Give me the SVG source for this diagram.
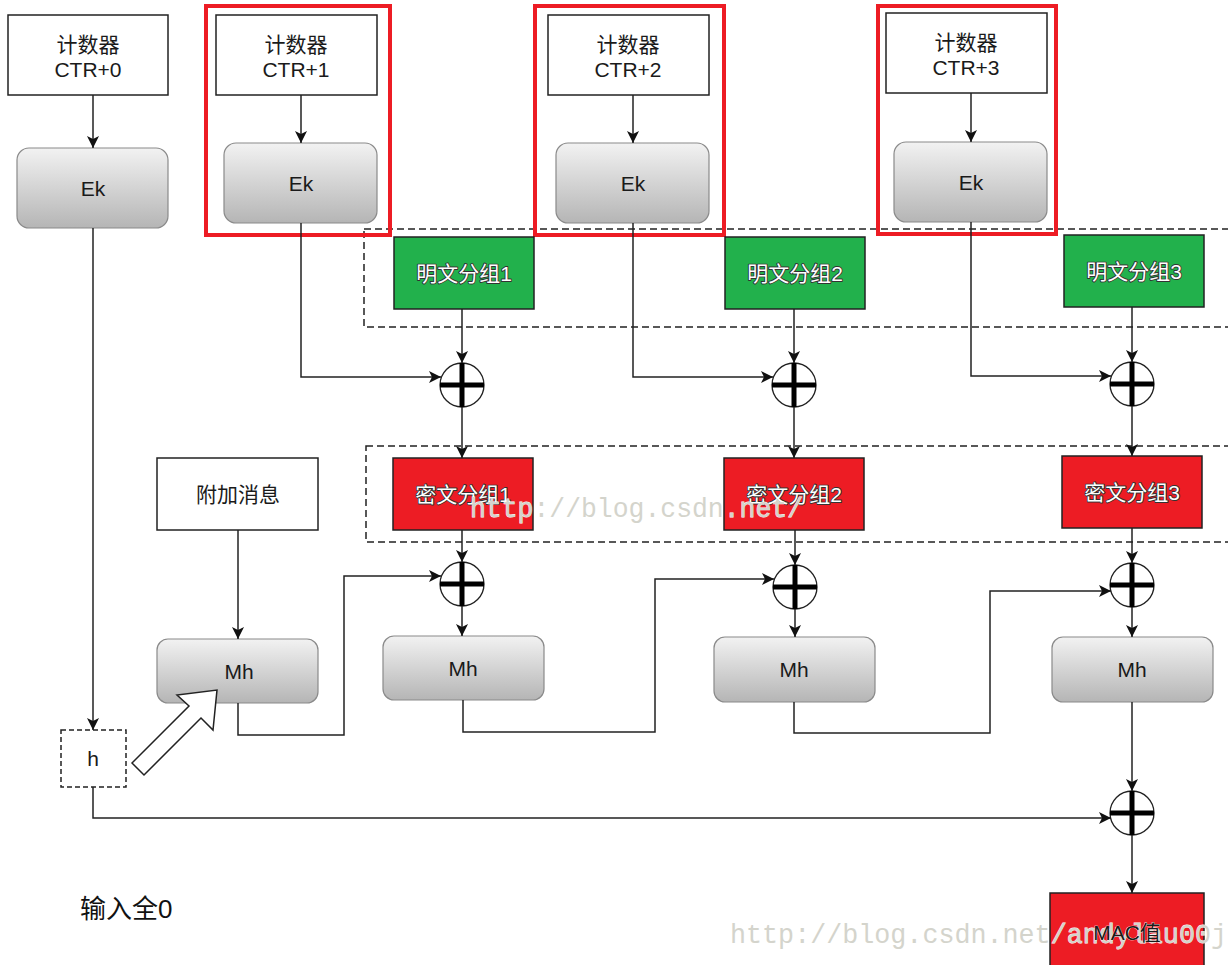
<svg xmlns="http://www.w3.org/2000/svg" width="1228" height="965" viewBox="0 0 1228 965">
<defs>
<linearGradient id="gray" x1="0" y1="0" x2="0" y2="1">
<stop offset="0" stop-color="#f2f2f2"/>
<stop offset="1" stop-color="#b5b5b5"/>
</linearGradient>
<marker id="ah" markerUnits="userSpaceOnUse" viewBox="0 0 12 12" markerWidth="12" markerHeight="12" refX="12" refY="6" orient="auto">
<path d="M0,0 L12,6 L0,12 L3,6 z" fill="#111"/>
</marker>
<g id="xor">
<circle cx="0" cy="0" r="22" fill="#fff" stroke="#222" stroke-width="1.3"/>
<path d="M0,-22 V22 M-22,0 H22" stroke="#000" stroke-width="5"/>
</g>
</defs>
<style>
text{font-family:"Liberation Sans","Noto Sans CJK SC",sans-serif;font-size:21px;fill:#1a1a1a;text-anchor:middle}
.box{fill:#fff;stroke:#222;stroke-width:1.5}
.rbox{fill:url(#gray);stroke:#8a8a8a;stroke-width:1.2}
.green{fill:#22b14c;stroke:#222;stroke-width:1.5}
.red{fill:#ed1c24;stroke:#222;stroke-width:1.5}
.frame{fill:none;stroke:#ed1c24;stroke-width:4}
.dash{fill:none;stroke:#222;stroke-width:1.5;stroke-dasharray:7,4}
.wt{fill:#fff;stroke:#333;stroke-width:1.8;paint-order:stroke;stroke-linejoin:round}
.conn path{fill:none;stroke:#222;stroke-width:1.5;marker-end:url(#ah)}
.wm{font-family:"Liberation Mono",monospace;font-size:28px;fill:#d4d4cc;stroke:#fff;stroke-width:0.8;paint-order:stroke;text-anchor:start}
</style>
<rect width="1228" height="965" fill="#fff"/>

<!-- dashed group regions -->
<rect class="dash" x="364" y="229" width="880" height="98"/>
<rect class="dash" x="366" y="446" width="880" height="96"/>

<!-- red highlight frames -->
<rect class="frame" x="206" y="6" width="184" height="229"/>
<rect class="frame" x="535" y="6" width="189" height="229"/>
<rect class="frame" x="878" y="6" width="178" height="228"/>

<g id="ctr0"><rect class="box" x="8" y="15" width="160" height="80"/><text x="88" y="52">计数器</text><text x="88" y="77">CTR+0</text></g>
<g id="ctr1"><rect class="box" x="216" y="15" width="161" height="80"/><text x="296" y="52">计数器</text><text x="296" y="77">CTR+1</text></g>
<g id="ctr2"><rect class="box" x="548" y="15" width="161" height="80"/><text x="628" y="52">计数器</text><text x="628" y="77">CTR+2</text></g>
<g id="ctr3"><rect class="box" x="886" y="13" width="161" height="80"/><text x="966" y="50">计数器</text><text x="966" y="75">CTR+3</text></g>

<g id="ek0"><rect class="rbox" x="17" y="148" width="151" height="80" rx="12"/><text x="93" y="196">Ek</text></g>
<g id="ek1"><rect class="rbox" x="224" y="143" width="153" height="80" rx="12"/><text x="301" y="191">Ek</text></g>
<g id="ek2"><rect class="rbox" x="556" y="143" width="153" height="80" rx="12"/><text x="633" y="191">Ek</text></g>
<g id="ek3"><rect class="rbox" x="894" y="142" width="153" height="80" rx="12"/><text x="971" y="190">Ek</text></g>

<g id="p1"><rect class="green" x="394" y="237" width="140" height="72"/><text class="wt" x="464" y="281">明文分组1</text></g>
<g id="p2"><rect class="green" x="725" y="237" width="140" height="72"/><text class="wt" x="795" y="281">明文分组2</text></g>
<g id="p3"><rect class="green" x="1064" y="235" width="140" height="72"/><text class="wt" x="1134" y="279">明文分组3</text></g>

<g id="c1"><rect class="red" x="393" y="458" width="140" height="72"/><text class="wt" x="463" y="502">密文分组1</text></g>
<g id="c2"><rect class="red" x="724" y="458" width="140" height="72"/><text class="wt" x="794" y="502">密文分组2</text></g>
<g id="c3"><rect class="red" x="1062" y="456" width="140" height="72"/><text class="wt" x="1132" y="500">密文分组3</text></g>

<g id="xor1a"><use href="#xor" x="462" y="385"/></g>
<g id="xor1b"><use href="#xor" x="794" y="385"/></g>
<g id="xor1c"><use href="#xor" x="1132" y="384"/></g>
<g id="xor2a"><use href="#xor" x="462" y="584"/></g>
<g id="xor2b"><use href="#xor" x="795" y="587"/></g>
<g id="xor2c"><use href="#xor" x="1132" y="585"/></g>
<g id="xor3"><use href="#xor" x="1132" y="813"/></g>

<g id="aad"><rect class="box" x="157" y="458" width="161" height="72"/><text x="238" y="502">附加消息</text></g>

<g id="mh0"><rect class="rbox" x="157" y="639" width="161" height="64" rx="11"/><text x="239" y="679">Mh</text></g>
<g id="mh1"><rect class="rbox" x="383" y="636" width="161" height="64" rx="11"/><text x="463" y="676">Mh</text></g>
<g id="mh2"><rect class="rbox" x="714" y="637" width="161" height="65" rx="11"/><text x="794" y="677">Mh</text></g>
<g id="mh3"><rect class="rbox" x="1052" y="637" width="161" height="65" rx="11"/><text x="1132" y="677">Mh</text></g>

<g id="h"><rect class="box" x="61" y="730" width="65" height="57" style="stroke-dasharray:5,3"/><text x="93" y="766">h</text></g>

<g id="mac-box"><rect class="red" x="1050" y="893" width="154" height="80"/></g>

<g id="hollow-arrow"><polygon points="132,763 189,706 177,695 217,690 213,730 201,718 144,775" fill="#fff" stroke="#222" stroke-width="1.5" stroke-linejoin="miter"/></g>

<g id="note"><text x="80" y="918" style="font-size:26px;text-anchor:start;fill:#111">输入全0</text></g>

<g class="conn" id="connectors">
<path d="M93,95 V148"/>
<path d="M301,95 V143"/>
<path d="M633,95 V143"/>
<path d="M971,93 V142"/>
<path d="M93,228 V730"/>
<path d="M301,223 V377 H441"/>
<path d="M633,223 V377 H773"/>
<path d="M971,222 V376 H1111"/>
<path d="M462,309 V363"/>
<path d="M794,309 V363"/>
<path d="M1132,307 V362"/>
<path d="M462,407 V458"/>
<path d="M794,407 V458"/>
<path d="M1132,406 V456"/>
<path d="M462,530 V562"/>
<path d="M795,530 V565"/>
<path d="M1132,528 V563"/>
<path d="M462,606 V636"/>
<path d="M795,609 V637"/>
<path d="M1132,607 V637"/>
<path d="M238,530 V639"/>
<path d="M238,703 V735 H344 V576 H441"/>
<path d="M463,700 V732 H655 V579 H774"/>
<path d="M794,702 V733 H990 V591 H1111"/>
<path d="M1132,702 V791"/>
<path d="M93,787 V818 H1111"/>
<path d="M1132,835 V893"/>
</g>

<g id="watermarks">
<text class="wm" x="470" y="517" textLength="333" lengthAdjust="spacingAndGlyphs">http://blog.csdn.net/</text>
<text class="wm" x="730" y="943" textLength="497" lengthAdjust="spacingAndGlyphs">http://blog.csdn.net/andylau00j</text>
</g>

<g id="mac-label"><text x="1127" y="940" style="stroke:#fff;stroke-width:0.6;paint-order:stroke">MAC值</text></g>
</svg>
